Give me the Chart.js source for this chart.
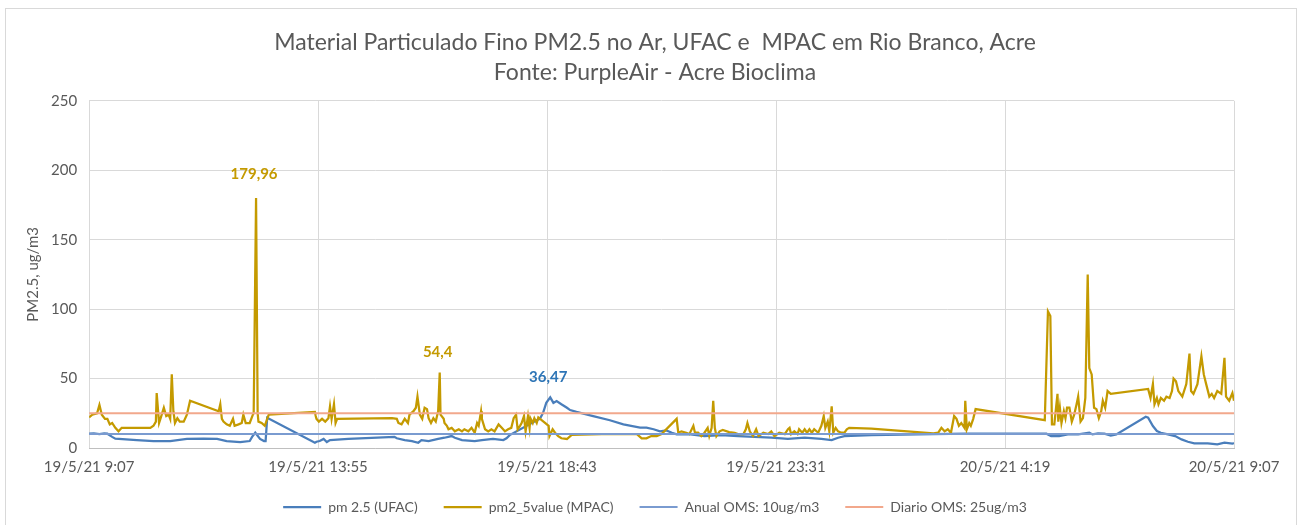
<!DOCTYPE html>
<html>
<head>
<meta charset="utf-8">
<script src="https://cdn.jsdelivr.net/npm/chart.js@4.4.1/dist/chart.umd.min.js"></script>
<style>
  html, body { margin: 0; padding: 0; background: #fff; }
  #wrap {
    position: absolute; left: 5px; top: 8px; width: 1292px; height: 530px;
    border: 1px solid #d9d9d9; box-sizing: border-box;
  }
  #chart { position: absolute; left: 0; top: 0; }
</style>
</head>
<body>
<div id="wrap"><canvas id="chart" width="1290" height="517"></canvas></div>
<script>
// minutes after 19/5/21 9:07
const xTickLabels = ["19/5/21 9:07", "19/5/21 13:55", "19/5/21 18:43", "19/5/21 23:31", "20/5/21 4:19", "20/5/21 9:07"];
const tickStep = 288;

// pm 2.5 (UFAC)
const ufacTime = [0,6,13,19,23,29,33,60,81,102,123,144,161,173,190,202,205,209,215,220,222,224,
  284,286,290,295,299,303,326,384,387,397,406,414,418,427,439,447,456,460,469,485,494,508,521,525,529,
  563,567,571,575,580,584,588,594,601,605,613,634,655,672,693,701,710,718,726,733,739,754,774,795,816,
  837,858,879,900,921,934,942,950,984,1061,1103,1145,1204,1210,1220,1231,1244,1258,1262,1269,1277,1285,
  1292,1329,1332,1338,1343,1348,1357,1366,1374,1382,1390,1407,1419,1428,1438,1440];
const ufacValue = [10.3,10.6,10,10.5,10.3,8,6.7,5.7,5,5,6.5,6.7,6.5,5,4.3,5,8,11,6.5,5,5,21.7,
  3.8,4.5,5,6.5,4.3,5.7,6.5,8,7,5.7,5,3.8,5.7,5,6.5,7.4,8.6,7.4,5.7,5,5.7,6.5,5.7,7,9.3,
  20,21,25.4,32.5,36.47,32.5,33.8,31.5,29,27.3,26,23,20,17,14.6,14.6,13.5,12,12.7,11,9.8,10,8.6,9.3,8.6,
  8,7.4,6.5,7.4,6.5,5.7,7.4,8.6,9.3,10,10.3,10.3,10.3,8.6,8.6,9.8,9.8,11,9.8,10.5,10.3,9,
  9.8,22.5,21.8,15.8,12.2,11,9.8,8.6,6.2,4.5,3.4,3.4,2.7,3.8,3.1,3.5];

// pm2_5value (MPAC)
const mpacTime = [0,4,10,13,16,20,23,26,29,33,37,41,77,81,84,85,88,90,94,97,100,102,104,106,108,111,114,119,123,127,
  163,165,167,169,173,177,181,183,188,192,194,197,202,206,207,210,212,213,217,221,224,226,
  284,285,286,289,293,297,301,303,305,308,310,312,381,387,389,393,397,401,403,408,411,413,416,419,422,425,427,430,433,436,439,441,442,446,447,450,452,
  456,460,465,469,472,477,481,485,488,490,493,494,498,502,506,510,515,519,523,527,531,534,537,539,542,544,547,549,552,554,555,558,560,563,565,
  578,579,583,586,590,594,601,607,645,689,695,701,707,714,720,739,741,745,751,755,760,762,766,770,774,778,780,783,785,787,789,793,797,805,812,816,
  823,826,828,831,835,839,842,848,854,858,862,868,875,879,881,883,887,891,893,897,900,903,906,909,912,917,921,924,926,929,931,934,936,939,942,946,950,953,956,
  984,1062,1068,1072,1076,1080,1084,1088,1091,1094,1097,1101,1102,1104,1107,1109,1112,1115,
  1202,1206,1209,1211,1214,1218,1219,1221,1223,1226,1228,1230,1233,1236,1239,1242,1244,1247,1250,1253,1256,1258,1261,1264,1267,1270,1273,1275,1278,1281,1285,
  1332,1335,1338,1340,1343,1345,1348,1352,1355,1359,1362,1364,1367,1370,1375,1380,1384,1386,1389,1394,1399,1402,1405,1409,1412,1415,1419,1424,1428,1430,1434,1438,1440];
const mpacValue = [22,24,25,31,24,21,21,17,18,14.5,12,14.5,14.5,16,19,39.5,18,21.5,29,23,24,21,53,26.5,18,21.5,19,19,24,34,
  26.5,31.5,21,19,17,16,21,16,17,18,24,18,18,24,25,179.96,25,19,18,16,21,24,
  26,23,21,19,21,19,21.5,30,21,31.5,18,21,21.5,21,18,17,21,18,24,26.5,29,37,24,21,29,28,21.5,18,21.5,19,26.5,54.4,24,21,18,16,13.5,
  14.5,12,13.5,12,13.5,12,14.5,11,18,16,26.5,21,13.5,12,13.5,12,17,14.5,12,13.5,14.5,21.5,24,13.5,16,18,23,12,23,14.5,21.5,18,21.5,18,22,
  16,8.6,13.5,11,8.6,7,6.5,9.5,10,10,7,7,8.6,8.6,10,21,11,12,11,10,16,11,11,8.6,11,14.5,8.6,14.5,34,14.5,8.6,12,13,11.5,11,10,
  10,13.5,18,12,8.6,13.5,8.6,11,10,12,8.6,11,10,13.5,14.5,10,12,10,13.5,11,13.5,11,13.5,11,13.5,11,16,23,14.5,19,12,30,11,14.5,12,11,11,13.5,14.5,
  14,10.5,11,14.5,12,13.5,11,23,21,16,18,14.5,34,13.5,18,16,21,28,
  20,98.4,95,17,17,39,19,29,18,26.5,21.5,29,29,19,24,31.5,37,19,21.5,36,125,57.5,53,29,28,21.5,26.5,34,29,41,39,
  42.5,36,46,31.5,36,31.5,36,34,37,36,41,50,48,41,37,46,68,41,39,46,66,53,46,37,39,36,41,39,65,37,34,39.5,34];

const anualOMS = 10;
const diarioOMS = 25;

const callouts = [
  { series: 1, x: 210, text: "179,96", color: "#C49A00", lift: 16 },
  { series: 1, x: 441, text: "54,4", color: "#C49A00", lift: 13 },
  { series: 0, x: 580, text: "36,47", color: "#2E75B6", lift: 13 },
];

const FONT = "Lato, 'Open Sans', sans-serif";
const toPts = (xs, ys) => xs.map((x, i) => ({ x, y: ys[i] }));
const flat = v => [{ x: 0, y: v }, { x: 1440, y: v }];

const calloutPlugin = {
  id: "callouts",
  afterDatasetsDraw(chart) {
    const { ctx, scales: { x, y } } = chart;
    ctx.save();
    ctx.font = "bold 15px " + FONT;
    ctx.textAlign = "center";
    ctx.textBaseline = "bottom";
    callouts.forEach(c => {
      const pt = chart.data.datasets[c.series].data.find(p => p.x === c.x);
      ctx.fillStyle = c.color;
      ctx.fillText(c.text, x.getPixelForValue(pt.x) - 2, y.getPixelForValue(pt.y) - c.lift);
    });
    ctx.restore();
  }
};

const ds = (label, data, color, width, order) => ({
  label, data, borderColor: color, backgroundColor: color,
  borderWidth: width, pointRadius: 0, pointHoverRadius: 0, tension: 0, order,
});

new Chart(document.getElementById("chart").getContext("2d"), {
  type: "line",
  data: {
    datasets: [
      ds("pm 2.5 (UFAC)", toPts(ufacTime, ufacValue), "#4A7EBB", 2.25, 3),
      ds("pm2_5value (MPAC)", toPts(mpacTime, mpacValue), "#C49A00", 2.25, 2),
      ds("Anual OMS: 10ug/m3", flat(anualOMS), "#7A9BD0", 2, 1),
      ds("Diario OMS: 25ug/m3", flat(diarioOMS), "#F2A88C", 2, 0),
    ],
  },
  options: {
    responsive: false,
    animation: false,
    layout: { padding: { left: 18, right: 10, top: 19, bottom: 2 } },
    plugins: {
      title: {
        display: true,
        text: ["Material Particulado Fino PM2.5 no Ar, UFAC e  MPAC em Rio Branco, Acre", "Fonte: PurpleAir - Acre Bioclima"],
        color: "#595959",
        font: { family: FONT, size: 23, weight: "normal", lineHeight: 1.3 },
        padding: { top: 0, bottom: 13 },
      },
      legend: {
        position: "bottom",
        labels: {
          color: "#595959",
          font: { family: FONT, size: 14 },
          usePointStyle: true,
          pointStyle: "line",
          pointStyleWidth: 38,
          padding: 26,
          sort: (a, b) => a.datasetIndex - b.datasetIndex,
        },
      },
      tooltip: { enabled: false },
    },
    scales: {
      x: {
        type: "linear",
        min: 0, max: 1440,
        ticks: {
          stepSize: tickStep, autoSkip: false, maxRotation: 0, padding: 10,
          color: "#595959", font: { family: FONT, size: 15 },
          callback: v => xTickLabels[Math.round(v / tickStep)],
        },
        grid: { color: "#d9d9d9", drawTicks: false },
        border: { color: "#bfbfbf" },
        afterFit: s => { s.height -= 12; s.paddingRight = 62; },
      },
      y: {
        min: 0, max: 250,
        ticks: { stepSize: 50, color: "#595959", font: { family: FONT, size: 15 }, padding: 12 },
        grid: { color: "#d9d9d9", drawTicks: false },
        border: { display: false },
        title: {
          display: true, text: "PM2.5, ug/m3", color: "#595959",
          font: { family: FONT, size: 15 }, padding: { top: 0, bottom: 8 },
        },
        afterFit: s => { s.width -= 11; },
      },
    },
  },
  plugins: [calloutPlugin],
});
</script>
</body>
</html>
